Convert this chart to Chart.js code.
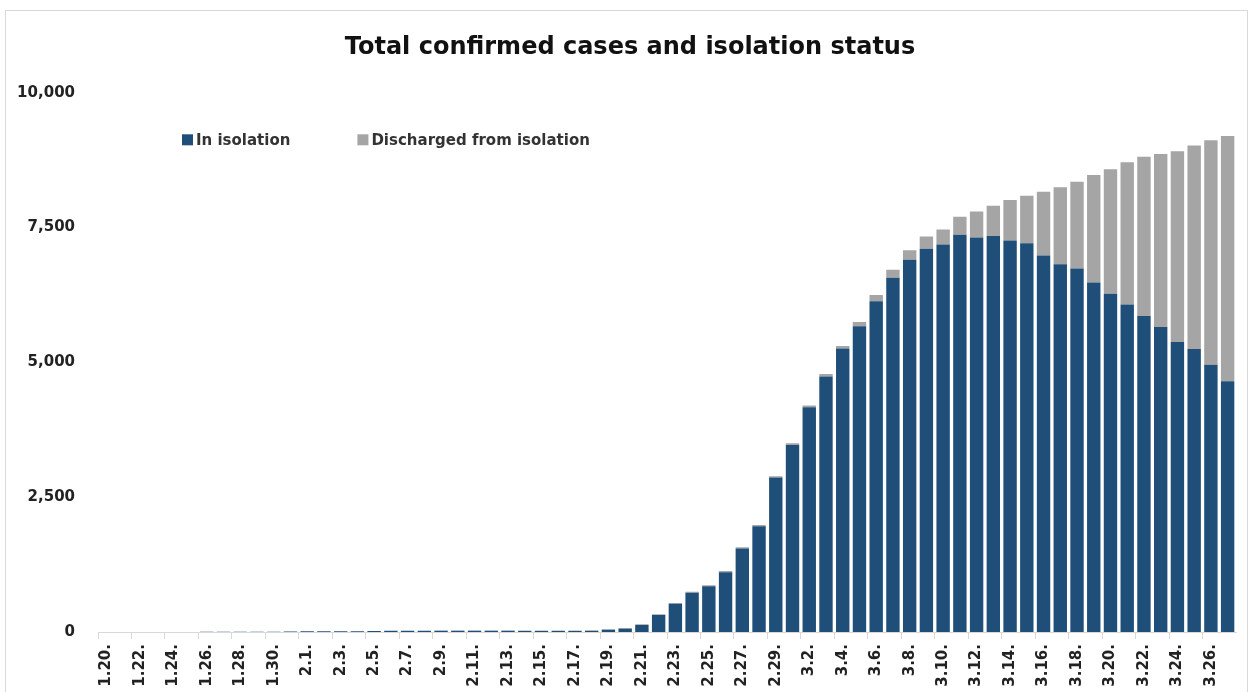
<!DOCTYPE html>
<html>
<head>
<meta charset="utf-8">
<title>Total confirmed cases and isolation status</title>
<script src="https://cdn.jsdelivr.net/npm/chart.js@4.4.1/dist/chart.umd.min.js"></script>
<style>
    html, body { margin: 0; padding: 0; background: #fff; overflow: hidden; }
    #frame { position: absolute; left: 5px; top: 10px; width: 1241px; height: 700px; border: 1px solid #d9d9d9; }
    #wrap { position: absolute; left: 0; top: 0; width: 1252px; height: 700px; }
</style>
</head>
<body>
<div id="frame"></div>
<div id="wrap"><canvas id="casesChart" width="1252" height="700"></canvas></div>
<script>
// --- data
var dateLabels = [
    '1.20.', '1.21.', '1.22.', '1.23.', '1.24.', '1.25.', '1.26.', '1.27.', '1.28.', '1.29.', '1.30.', '1.31.',
    '2.1.', '2.2.', '2.3.', '2.4.', '2.5.', '2.6.', '2.7.', '2.8.', '2.9.', '2.10.', '2.11.', '2.12.', '2.13.',
    '2.14.', '2.15.', '2.16.', '2.17.', '2.18.', '2.19.', '2.20.', '2.21.', '2.22.', '2.23.', '2.24.', '2.25.',
    '2.26.', '2.27.', '2.28.', '2.29.',
    '3.1.', '3.2.', '3.3.', '3.4.', '3.5.', '3.6.', '3.7.', '3.8.', '3.9.', '3.10.', '3.11.', '3.12.', '3.13.',
    '3.14.', '3.15.', '3.16.', '3.17.', '3.18.', '3.19.', '3.20.', '3.21.', '3.22.', '3.23.', '3.24.', '3.25.',
    '3.26.', '3.27.'
];

var inIsolation = [
    1, 1, 1, 1, 2, 2, 3, 4, 4, 4, 6, 11,
    12, 15, 15, 16, 18, 21, 22, 21, 24, 24, 24, 21, 21, 19, 19, 20, 20,
    19, 41, 60, 129, 314, 522, 727, 850, 1108, 1548, 1963, 2867,
    3470, 4170, 4740, 5260, 5670, 6134, 6570, 6905, 7106, 7187, 7366, 7317, 7342, 7262,
    7212, 6983, 6822, 6741, 6481, 6271, 6072, 5861, 5656, 5378, 5247, 4957, 4652
];

var discharged = [
    0, 0, 0, 0, 0, 0, 0, 0, 0, 0, 0, 0,
    0, 0, 0, 0, 1, 2, 2, 3, 3, 3, 4, 7, 7, 9, 9, 9, 10,
    12, 12, 16, 16, 16, 18, 18, 18, 22, 22, 22, 23,
    30, 30, 45, 45, 80, 118, 150, 177, 230, 279, 335, 483, 564, 749,
    880, 1183, 1425, 1611, 1995, 2310, 2639, 2955, 3210, 3538, 3774, 4164, 4549
];

var yTicks = [0, 2500, 5000, 7500, 10000];

var seriesNames = ['In isolation', 'Discharged from isolation'];
var seriesColors = ['#1f4e79', '#a5a5a5'];

var FONT = "'DejaVu Sans', sans-serif";

// legend sits inside the plot, top left
var insideLegend = {
    id: 'insideLegend',
    afterDraw: function (chart) {
        var ctx = chart.ctx;
        var area = chart.chartArea;
        var x = area.left + 84;
        var y = area.top + 47;
        ctx.save();
        ctx.font = 'bold 15px ' + FONT;
        ctx.textBaseline = 'middle';
        ctx.textAlign = 'left';
        chart.data.datasets.forEach(function (ds) {
            ctx.fillStyle = ds.backgroundColor;
            ctx.fillRect(x, y - 5.5, 11, 11);
            ctx.fillStyle = '#333';
            ctx.fillText(ds.label, x + 14, y + 1);
            x += 14 + ctx.measureText(ds.label).width + 67;
        });
        ctx.restore();
    }
};

var ctx = document.getElementById('casesChart');

new Chart(ctx, {
    type: 'bar',
    data: {
        labels: dateLabels,
        datasets: [{
            label: seriesNames[0],
            data: inIsolation,
            backgroundColor: seriesColors[0]
        }, {
            label: seriesNames[1],
            data: discharged,
            backgroundColor: seriesColors[1]
        }]
    },
    options: {
        responsive: false,
        animation: false,
        layout: { padding: { left: 8, right: 0, top: 0, bottom: 0 } },
        datasets: {
            bar: { barPercentage: 0.8, categoryPercentage: 1.0 }
        },
        plugins: {
            legend: { display: false },
            tooltip: { enabled: false },
            title: {
                display: true,
                text: 'Total confirmed cases and isolation status',
                color: '#111',
                font: { family: FONT, size: 24, weight: 'bold' },
                padding: { top: 33, bottom: 31 }
            }
        },
        scales: {
            x: {
                stacked: true,
                offset: true,
                border: { display: true, color: '#d9d9d9' },
                grid: {
                    drawOnChartArea: false,
                    drawTicks: true,
                    tickLength: 7,
                    offset: true,
                    color: function (c) {
                        return (c.index % 2 === 0 && c.index < dateLabels.length) ? '#d9d9d9' : 'rgba(0,0,0,0)';
                    }
                },
                ticks: {
                    autoSkip: false,
                    minRotation: 90,
                    maxRotation: 90,
                    padding: 5,
                    color: '#222',
                    font: { family: FONT, size: 15, weight: 'bold' },
                    callback: function (val, idx) {
                        return idx % 2 === 0 ? dateLabels[idx] : '';
                    }
                },
                afterFit: function (scale) { scale.height = 68; }
            },
            y: {
                stacked: true,
                min: yTicks[0],
                max: yTicks[yTicks.length - 1],
                border: { display: false },
                grid: { display: false, drawTicks: false },
                afterBuildTicks: function (scale) {
                    scale.ticks = yTicks.map(function (v) { return { value: v }; });
                },
                ticks: {
                    padding: 23,
                    color: '#222',
                    font: { family: FONT, size: 15, weight: 'bold' },
                    callback: function (v) { return v.toLocaleString('en-US'); }
                },
                afterFit: function (scale) { scale.width = 90; }
            },
            // empty strip on the right so the plot stops short of the frame
            yPad: {
                position: 'right',
                display: true,
                border: { display: false },
                grid: { display: false, drawTicks: false },
                ticks: { display: false },
                afterFit: function (scale) { scale.width = 16; }
            }
        }
    },
    plugins: [insideLegend]
});
</script>
</body>
</html>
